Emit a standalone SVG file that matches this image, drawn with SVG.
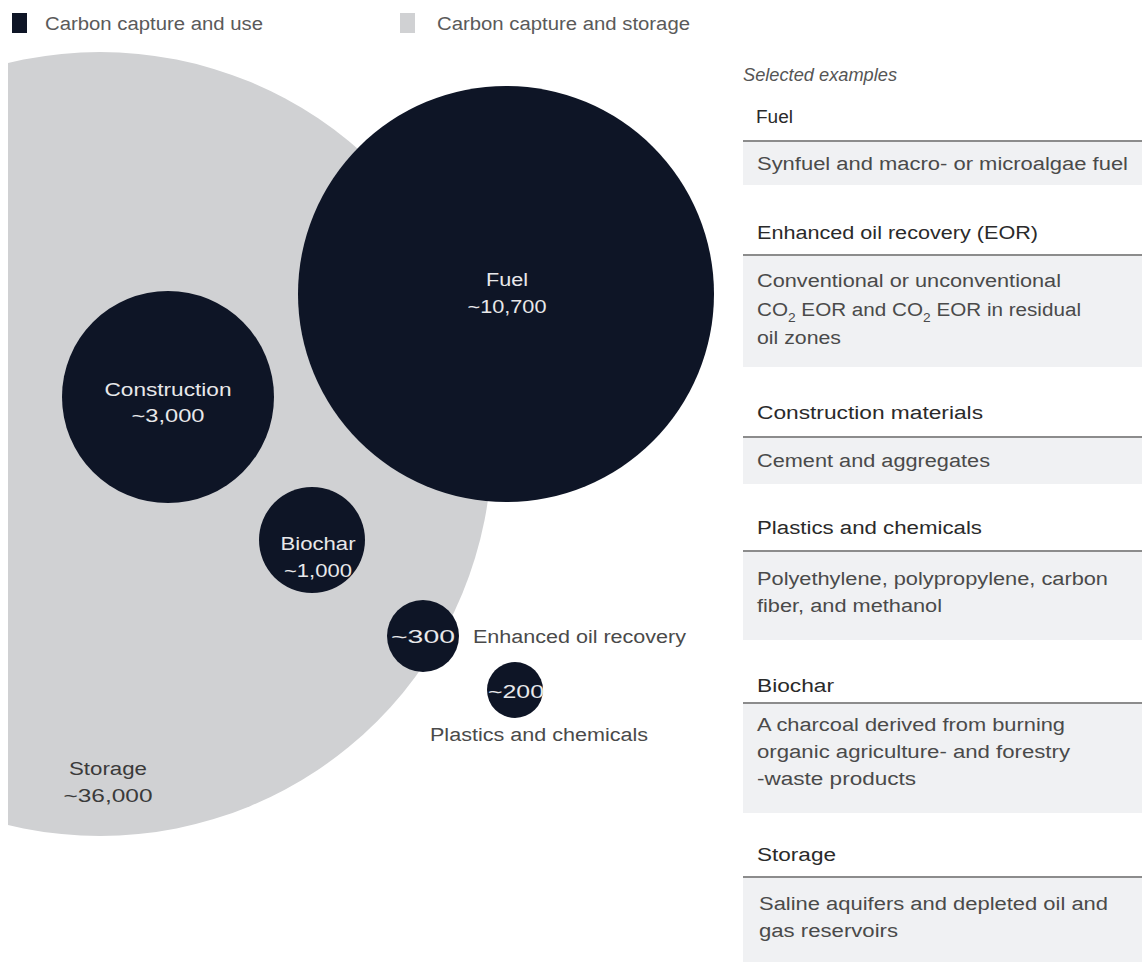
<svg xmlns="http://www.w3.org/2000/svg" width="1142" height="964" viewBox="0 0 1142 964">
<style>
.t{font-family:"Liberation Sans",Arial,sans-serif;}
.leg{font-size:18px;fill:#5a5a5a;}
.hd{font-size:18px;fill:#2a2a2a;}
.bd{font-size:18px;fill:#4a4a4a;}
.in{font-size:18px;fill:#e8e8ea;text-anchor:middle;}
.ou{font-size:18px;fill:#4a4a4a;}
.st{font-size:18px;fill:#3a3a3a;text-anchor:middle;}
.dark{fill:#0e1526;}
.light{fill:#d0d1d3;}
.box{fill:#f0f1f3;}
.rule{stroke:#8c8c8c;stroke-width:2;}
</style>
<defs>
<clipPath id="clipL"><rect x="8" y="0" width="1134" height="964"/></clipPath>
</defs>
<rect width="1142" height="964" fill="#ffffff"/>
<g id="legend" class="t">
<rect x="12" y="13" width="15" height="20" class="dark"/>
<text x="45" y="30" class="leg" textLength="218" lengthAdjust="spacingAndGlyphs">Carbon capture and use</text>
<rect x="400" y="13" width="15" height="20" class="light"/>
<text x="437" y="30" class="leg" textLength="253" lengthAdjust="spacingAndGlyphs">Carbon capture and storage</text>
</g>
<g id="storage" class="t">
<circle cx="100" cy="444" r="392" class="light" clip-path="url(#clipL)"/>
<text x="108" y="775" class="st" textLength="78" lengthAdjust="spacingAndGlyphs">Storage</text>
<text x="108" y="802" class="st" textLength="89" lengthAdjust="spacingAndGlyphs">~36,000</text>
</g>
<g id="fuel" class="t">
<circle cx="506" cy="294" r="208" class="dark"/>
<text x="507" y="286" class="in" textLength="42" lengthAdjust="spacingAndGlyphs">Fuel</text>
<text x="507" y="313" class="in" textLength="79" lengthAdjust="spacingAndGlyphs">~10,700</text>
</g>
<g id="construction" class="t">
<circle cx="168" cy="397" r="106" class="dark"/>
<text x="168" y="396" class="in" textLength="127" lengthAdjust="spacingAndGlyphs">Construction</text>
<text x="168" y="422" class="in" textLength="73" lengthAdjust="spacingAndGlyphs">~3,000</text>
</g>
<g id="biochar" class="t">
<circle cx="312" cy="540" r="53" class="dark"/>
<text x="318" y="550" class="in" textLength="75" lengthAdjust="spacingAndGlyphs">Biochar</text>
<text x="318" y="577" class="in" textLength="68" lengthAdjust="spacingAndGlyphs">~1,000</text>
</g>
<g id="eor" class="t">
<circle cx="423" cy="636" r="36" class="dark"/>
<text x="423" y="643" class="in" textLength="64" lengthAdjust="spacingAndGlyphs">~300</text>
<text x="473" y="643" class="ou" textLength="213" lengthAdjust="spacingAndGlyphs">Enhanced oil recovery</text>
</g>
<g id="plastics" class="t">
<circle cx="515" cy="690" r="28" class="dark"/>
<text x="516" y="698" class="in" textLength="56" lengthAdjust="spacingAndGlyphs">~200</text>
<text x="430" y="741" class="ou" textLength="218" lengthAdjust="spacingAndGlyphs">Plastics and chemicals</text>
</g>
<g id="examples" class="t">
<text x="743" y="81" style="font-size:18px;fill:#555;font-style:italic" textLength="154" lengthAdjust="spacingAndGlyphs">Selected examples</text>
</g>
<g id="ex-fuel" class="t">
<text x="756" y="123" class="hd" textLength="37" lengthAdjust="spacingAndGlyphs">Fuel</text>
<rect x="743" y="141" width="399" height="44" class="box"/>
<line x1="743" y1="141" x2="1142" y2="141" class="rule"/>
<text x="757" y="170" class="bd" textLength="371" lengthAdjust="spacingAndGlyphs">Synfuel and macro- or microalgae fuel</text>
</g>
<g id="ex-eor" class="t">
<text x="757" y="239" class="hd" textLength="281" lengthAdjust="spacingAndGlyphs">Enhanced oil recovery (EOR)</text>
<rect x="743" y="255" width="399" height="112" class="box"/>
<line x1="743" y1="255" x2="1142" y2="255" class="rule"/>
<text x="757" y="287" class="bd" textLength="304" lengthAdjust="spacingAndGlyphs">Conventional or unconventional</text>
<text x="757" y="316" class="bd" textLength="324" lengthAdjust="spacingAndGlyphs">CO<tspan dy="6" style="font-size:12px">2</tspan><tspan dy="-6"> EOR and CO</tspan><tspan dy="6" style="font-size:12px">2</tspan><tspan dy="-6"> EOR in residual</tspan></text>
<text x="757" y="344" class="bd" textLength="84" lengthAdjust="spacingAndGlyphs">oil zones</text>
</g>
<g id="ex-construction" class="t">
<text x="757" y="419" class="hd" textLength="226" lengthAdjust="spacingAndGlyphs">Construction materials</text>
<rect x="743" y="437" width="399" height="47" class="box"/>
<line x1="743" y1="437" x2="1142" y2="437" class="rule"/>
<text x="757" y="467" class="bd" textLength="233" lengthAdjust="spacingAndGlyphs">Cement and aggregates</text>
</g>
<g id="ex-plastics" class="t">
<text x="757" y="534" class="hd" textLength="225" lengthAdjust="spacingAndGlyphs">Plastics and chemicals</text>
<rect x="743" y="551" width="399" height="89" class="box"/>
<line x1="743" y1="551" x2="1142" y2="551" class="rule"/>
<text x="757" y="585" class="bd" textLength="351" lengthAdjust="spacingAndGlyphs">Polyethylene, polypropylene, carbon</text>
<text x="757" y="612" class="bd" textLength="185" lengthAdjust="spacingAndGlyphs">fiber, and methanol</text>
</g>
<g id="ex-biochar" class="t">
<text x="757" y="692" class="hd" textLength="77" lengthAdjust="spacingAndGlyphs">Biochar</text>
<rect x="743" y="703" width="399" height="110" class="box"/>
<line x1="743" y1="703" x2="1142" y2="703" class="rule"/>
<text x="757" y="731" class="bd" textLength="308" lengthAdjust="spacingAndGlyphs">A charcoal derived from burning</text>
<text x="757" y="758" class="bd" textLength="313" lengthAdjust="spacingAndGlyphs">organic agriculture- and forestry</text>
<text x="757" y="785" class="bd" textLength="159" lengthAdjust="spacingAndGlyphs">-waste products</text>
</g>
<g id="ex-storage" class="t">
<text x="757" y="861" class="hd" textLength="79" lengthAdjust="spacingAndGlyphs">Storage</text>
<rect x="743" y="877" width="399" height="85" class="box"/>
<line x1="743" y1="877" x2="1142" y2="877" class="rule"/>
<text x="759" y="910" class="bd" textLength="349" lengthAdjust="spacingAndGlyphs">Saline aquifers and depleted oil and</text>
<text x="759" y="937" class="bd" textLength="139" lengthAdjust="spacingAndGlyphs">gas reservoirs</text>
</g>
</svg>
